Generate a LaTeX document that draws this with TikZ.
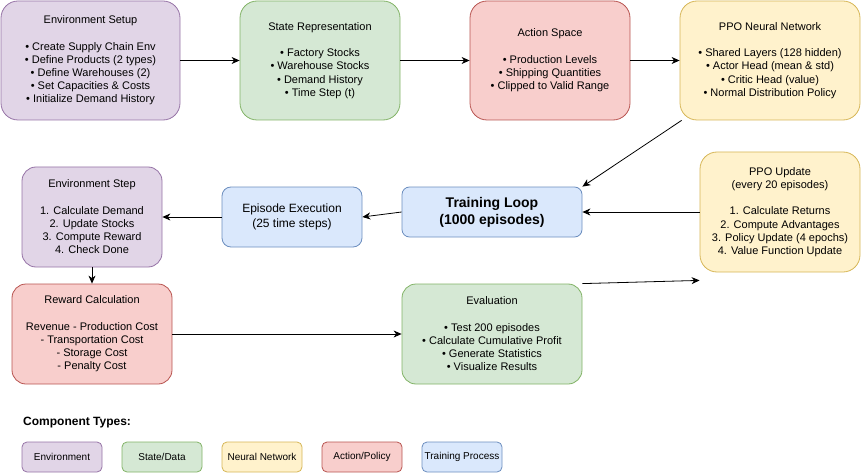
\documentclass[tikz,border=0pt]{standalone}
\usepackage{fontspec}
\setmainfont{Liberation Sans}
\usetikzlibrary{arrows.meta}
\definecolor{envF}{HTML}{E1D5E7}\definecolor{envD}{HTML}{9673A6}
\definecolor{stF}{HTML}{D5E8D4}\definecolor{stD}{HTML}{82B366}
\definecolor{nnF}{HTML}{FFF2CC}\definecolor{nnD}{HTML}{D6B656}
\definecolor{acF}{HTML}{F8CECC}\definecolor{acD}{HTML}{B85450}
\definecolor{trF}{HTML}{DAE8FC}\definecolor{trD}{HTML}{6C8EBF}
\tikzset{
  box/.style={draw, line width=0.8pt, align=center, inner sep=0pt, font=\fontsize{11}{13.2}\selectfont},
  envbox/.style={box, fill=envF, draw=envD},
  stbox/.style={box, fill=stF, draw=stD},
  nnbox/.style={box, fill=nnF, draw=nnD},
  acbox/.style={box, fill=acF, draw=acD},
  trbox/.style={box, fill=trF, draw=trD},
  sz/.style 2 args={minimum width=#1pt, minimum height=#2pt},
  conn/.style={draw=black, line width=0.8pt, -{Stealth[length=8pt,width=7pt,inset=2.5pt]}},
  legbox/.style={sz={80}{30}, rounded corners=5pt, font=\fontsize{10}{12}\selectfont}
}
\begin{document}
\begin{tikzpicture}[x=1pt,y=-1pt]
\useasboundingbox (0,0) rectangle (861,473);
% top row
\node[envbox, sz={179}{119}, rounded corners=17pt] (setup) at (90.5,60.5)
 {Environment Setup\\[13.2pt]• Create Supply Chain Env\\• Define Products (2 types)\\• Define Warehouses (2)\\• Set Capacities \& Costs\\• Initialize Demand History};
\node[stbox, sz={160}{119}, rounded corners=17pt] (state) at (320,60.5)
 {State Representation\\[13.2pt]• Factory Stocks\\• Warehouse Stocks\\• Demand History\\• Time Step (t)};
\node[acbox, sz={160}{119}, rounded corners=17pt] (action) at (550,60.5)
 {Action Space\\[13.2pt]• Production Levels\\• Shipping Quantities\\• Clipped to Valid Range};
\node[nnbox, sz={180}{119}, rounded corners=17pt] (ppo) at (770,60.5)
 {PPO Neural Network\\[13.2pt]• Shared Layers (128 hidden)\\• Actor Head (mean \& std)\\• Critic Head (value)\\• Normal Distribution Policy};
% middle row
\node[envbox, sz={140}{100}, rounded corners=14pt] (envstep) at (92,217)
 {Environment Step\\[13.2pt]1. Calculate Demand\\2. Update Stocks\\3. Compute Reward\\4. Check Done};
\node[trbox, sz={140}{60}, rounded corners=9pt, font=\fontsize{12}{14.4}\selectfont] (episode) at (292,217)
 {Episode Execution\\(25 time steps)};
\node[trbox, sz={180}{50}, rounded corners=7.5pt, font=\bfseries\fontsize{14}{17}\selectfont] (train) at (492,212)
 {Training Loop\\(1000 episodes)};
\node[nnbox, sz={160}{120}, rounded corners=17pt] (update) at (780,212)
 {PPO Update\\(every 20 episodes)\\[13.2pt]1. Calculate Returns\\2. Compute Advantages\\3. Policy Update (4 epochs)\\4. Value Function Update};
% bottom row
\node[acbox, sz={160}{100}, rounded corners=14pt] (reward) at (92,334)
 {Reward Calculation\\[13.2pt]Revenue - Production Cost\\- Transportation Cost\\- Storage Cost\\- Penalty Cost};
\node[stbox, sz={180}{100}, rounded corners=14pt] (eval) at (492,334)
 {Evaluation\\[13.2pt]• Test 200 episodes\\• Calculate Cumulative Profit\\• Generate Statistics\\• Visualize Results};
% connectors
\draw[conn] (setup.east) -- (state.west);
\draw[conn] (state.east) -- (action.west);
\draw[conn] (action.east) -- (ppo.west);
\coordinate (ppoout) at ([xshift=2pt]ppo.south west);
\draw[conn] (ppoout) -- (train.north east);
\draw[conn] (update.west) -- (train.east);
\draw[conn] (train.west) -- (episode.east);
\draw[conn] (episode.west) -- (envstep.east);
\draw[conn] (envstep.south) -- (reward.north);
\draw[conn] (reward.east) -- (eval.west);
\coordinate (updin) at ([yshift=-8pt]update.south west);
\draw[conn] (eval.north east) -- (updin);
% legend
\node[anchor=west, inner sep=0pt, font=\bfseries\fontsize{12}{14}\selectfont] (legtitle) at (23,423) {Component Types:};
\node[envbox, legbox] (l1) at (62,457) {Environment};
\node[stbox, legbox] (l2) at (162,457) {State/Data};
\node[nnbox, legbox] (l3) at (262,457) {Neural Network};
\node[acbox, legbox] (l4) at (362,457) {Action/Policy};
\node[trbox, legbox] (l5) at (462,457) {Training Process};
\end{tikzpicture}
\end{document}
